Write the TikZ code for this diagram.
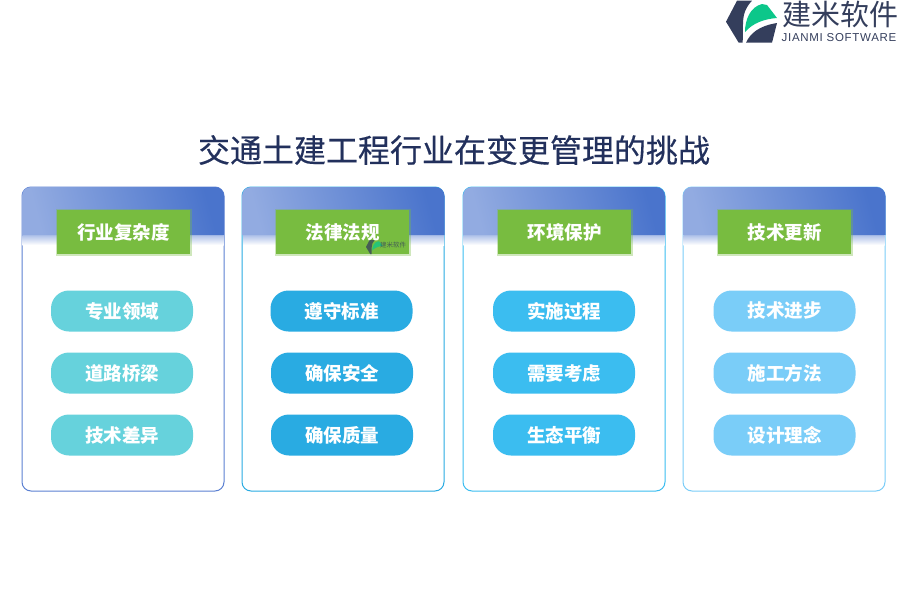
\documentclass[tikz,border=0pt]{standalone}
\usepackage{fontspec}
\setmainfont{Noto Sans CJK SC}
\setsansfont{Liberation Sans}
\definecolor{titleblue}{HTML}{22305C}
\definecolor{leafgreen}{HTML}{78BC40}
\definecolor{logodark}{HTML}{343E5C}
\definecolor{logogreen}{HTML}{0CC78A}
\definecolor{headlight}{HTML}{92ABE1}
\definecolor{headdark}{HTML}{4A74CC}
\definecolor{lineA}{HTML}{5B80D2}
\definecolor{lineB}{HTML}{29ABE2}
\definecolor{lineC}{HTML}{3BBDF0}
\definecolor{lineD}{HTML}{7ACDF8}
\definecolor{pillA}{HTML}{66D2DC}
\begin{document}
\begin{tikzpicture}[x=1pt, y=-1pt,
    card/.style={draw, line width=1pt, rounded corners=9pt, fill=white, minimum width=202pt, minimum height=304pt, inner sep=0pt, outer sep=0pt},
    head/.style={left color=headlight, right color=headdark, shading angle=105, rounded corners=9pt},
    headfade/.style={top color=headlight!75, bottom color=white},
    tag/.style={fill=leafgreen, preaction={draw=leafgreen, draw opacity=0.35, line width=3pt}, minimum width=133pt, minimum height=44pt, inner sep=0pt, text=white, font=\fontsize{18.5}{20}\selectfont\bfseries},
    pill/.style={minimum width=142pt, minimum height=41pt, rounded corners=18pt, inner sep=0pt, text=white, font=\fontsize{18.5}{20}\selectfont\bfseries}]
    \useasboundingbox (0,0) rectangle (900,600);
    \node[text=titleblue, font=\fontsize{32}{34}\selectfont\addfontfeature{FakeBold=0.4}] (title) at (454,150) {交通土建工程行业在变更管理的挑战};

    % logo
    \fill[logodark] (737,0.700) -- (752,0.700) .. controls (746,7) and (743,14) .. (743,24) -- (742.700,42.700) -- (738.700,42.700) -- (726,21.700) -- cycle;
    \fill[logodark] (777,23) -- (772,42.700) -- (746,42.700) .. controls (750,34) and (758,26) .. (777,23) -- cycle;
    \fill[logogreen] (745,32) .. controls (745,20) and (750,7) .. (762,4) -- (767,5) -- (777,18) .. controls (764,19) and (753,23) .. (745,32) -- cycle;
    \node[text=logodark, font=\fontsize{29}{30}\selectfont] (logoname) at (840,14) {建米软件};
    \node[text=logodark, font=\sffamily\fontsize{11.5}{12}\selectfont\addfontfeature{LetterSpace=6}] (logosub) at (839,38) {JIANMI SOFTWARE};

    % cards
    \node[card, draw=lineA] (cardA) at (123,339) {};
    \node[card, draw=lineB] (cardB) at (343,339) {};
    \node[card, draw=lineC] (cardC) at (564,339) {};
    \node[card, draw=lineD] (cardD) at (784,339) {};
    \path[headfade] (22.500,235) rectangle (223.500,245);
    \path[headfade] (243,235) rectangle (444,245);
    \path[headfade] (463.500,235) rectangle (664.500,245);
    \path[headfade] (683.500,235) rectangle (884.500,245);
    \path[head] (22,235) -- (22,187) -- (224,187) [sharp corners] -- (224,235) -- cycle;
    \path[head] (242,235) -- (242,187) -- (444.500,187) [sharp corners] -- (444.500,235) -- cycle;
    \path[head] (463,235) -- (463,187) -- (665,187) [sharp corners] -- (665,235) -- cycle;
    \path[head] (683,235) -- (683,187) -- (885.500,187) [sharp corners] -- (885.500,235) -- cycle;

    \node[tag] (tagA) at (123.500,232) {行业复杂度};
    \node[tag] (tagB) at (342.500,232) {法律法规};
    \node[tag] (tagC) at (564.500,232) {环境保护};
    \node[tag] (tagD) at (784.500,232) {技术更新};

    % small mark on the second tag
    \begin{scope}[shift={(366,240)}, scale=0.33, opacity=0.75]
      \fill[logodark] (11,0) -- (26,0) .. controls (20,7) and (17,14) .. (17,24) -- (17,43) -- (13,43) -- (0,21) -- cycle;
      \fill[logogreen] (19,32) .. controls (19,20) and (24,7) .. (36,4) -- (41,5) -- (51,18) .. controls (38,19) and (27,23) .. (19,32) -- cycle;
    \end{scope}
    \node[text=logodark, opacity=0.75, font=\fontsize{6.500}{7}\selectfont] (markname) at (393,245) {建米软件};

    \node[pill, fill=pillA] (a1) at (122,311) {专业领域};
    \node[pill, fill=pillA] (a2) at (122,373) {道路桥梁};
    \node[pill, fill=pillA] (a3) at (122,435) {技术差异};
    \node[pill, fill=lineB] (b1) at (341.500,311) {遵守标准};
    \node[pill, fill=lineB] (b2) at (342,373) {确保安全};
    \node[pill, fill=lineB] (b3) at (342,435) {确保质量};
    \node[pill, fill=lineC] (c1) at (564,311) {实施过程};
    \node[pill, fill=lineC] (c2) at (564,373) {需要考虑};
    \node[pill, fill=lineC] (c3) at (564,435) {生态平衡};
    \node[pill, fill=lineD] (d1) at (784.500,311) {技术进步};
    \node[pill, fill=lineD] (d2) at (784.500,373) {施工方法};
    \node[pill, fill=lineD] (d3) at (784.500,435) {设计理念};
  \end{tikzpicture}
\end{document}
